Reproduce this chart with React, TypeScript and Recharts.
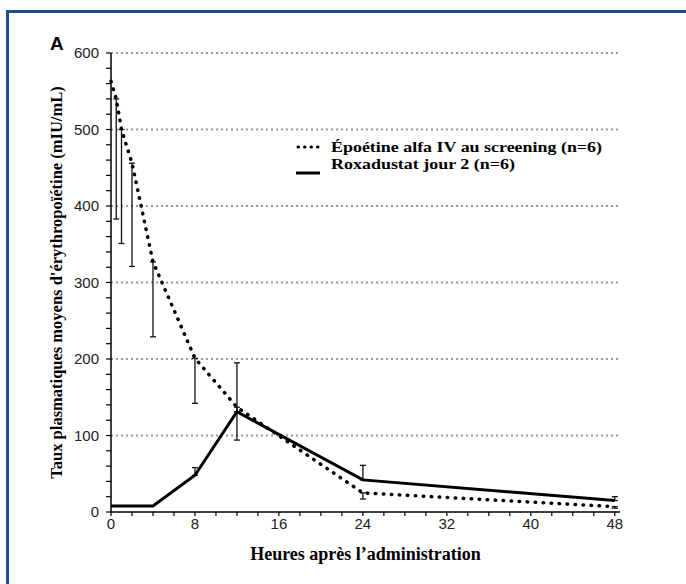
import { LineChart, Line, XAxis, YAxis, ReferenceLine, ErrorBar } from "recharts";

// sampling times (h)
const hours = [0, 0.5, 1, 2, 4, 8, 12, 24, 48];

// Epoetin alfa IV – mean with lower SD only
const epoetinMean = [563, 540, 500, 456, 327, 201, 137, 25, 7];
const epoetinSdLow = [null, 157, 149, 135, 98, 59, 43, 8, 2];

// Roxadustat day 2 – mean with upper SD only
const roxadustatMean = [8, 8, 8, 8, 8, 48, 131, 42, 15];
const roxadustatSdHigh = [null, null, null, null, null, 10, 64, 19, 5];

const hourTicks = [0, 2, 4, 6, 8, 10, 12, 14, 16, 18, 20, 22, 24, 26, 28, 30, 32, 34, 36, 38, 40, 42, 44, 46, 48];
const hourLabels = [0, 8, 16, 24, 32, 40, 48];
const levelTicks = [
    0, 20, 40, 60, 80, 100, 120, 140, 160, 180, 200, 220, 240, 260, 280, 300,
    320, 340, 360, 380, 400, 420, 440, 460, 480, 500, 520, 540, 560, 580, 600,
];
const levelLabels = [0, 100, 200, 300, 400, 500, 600];
const gridLevels = [100, 200, 300, 400, 500, 600];

const legendEpoetin = "Époétine alfa IV au screening (n=6)";
const legendRoxadustat = "Roxadustat jour 2 (n=6)";

const data = hours.map((h, i) => ({
    h,
    epo: epoetinMean[i],
    epoErr: epoetinSdLow[i] == null ? null : [epoetinSdLow[i], 0],
    roxa: roxadustatMean[i],
    roxaErr: roxadustatSdHigh[i] == null ? null : [0, roxadustatSdHigh[i]],
}));

const serif = "'Liberation Serif', 'Times New Roman', serif";
const sans = "'Liberation Sans', Arial, sans-serif";

export default function App() {
    return (
        <div
            style={{
                position: "absolute",
                left: 0,
                top: 0,
                width: 686,
                height: 584,
                overflow: "hidden",
                background: "#fff",
            }}
        >
            {/* blue frame, runs off the right and bottom edges */}
            <div
                style={{
                    position: "absolute",
                    left: 6,
                    top: 10,
                    width: 800,
                    height: 700,
                    border: "3px solid #1b4f8c",
                }}
            />

            <LineChart
                width={686}
                height={584}
                data={data}
                margin={{ top: 53, right: 66, bottom: 20, left: 40 }}
                style={{ position: "absolute", left: 0, top: 0 }}
            >
                {gridLevels.map((v) => (
                    <ReferenceLine
                        key={v}
                        y={v}
                        stroke="#999"
                        strokeWidth={2}
                        strokeDasharray="2 3"
                    />
                ))}

                <XAxis
                    dataKey="h"
                    type="number"
                    domain={[0, 48.5]}
                    ticks={hourTicks}
                    interval={0}
                    tickFormatter={(v) => (hourLabels.includes(v) ? String(v) : "")}
                    tickSize={4}
                    tickMargin={2}
                    height={52}
                    axisLine={{ stroke: "#000", strokeWidth: 1.5 }}
                    tickLine={{ stroke: "#000", strokeWidth: 1.2 }}
                    tick={{ fill: "#222", fontSize: 15, fontFamily: sans }}
                    label={{
                        value: "Heures après l’administration",
                        position: "insideBottom",
                        offset: 4,
                        style: { fill: "#000", fontSize: 18, fontWeight: 700, fontFamily: serif },
                    }}
                />

                <YAxis
                    type="number"
                    domain={[0, 600]}
                    ticks={levelTicks}
                    interval={0}
                    tickFormatter={(v) => (levelLabels.includes(v) ? String(v) : "")}
                    tickSize={5}
                    tickMargin={7}
                    width={71}
                    axisLine={{ stroke: "#000", strokeWidth: 1.5 }}
                    tickLine={{ stroke: "#000", strokeWidth: 1.2 }}
                    tick={{ fill: "#222", fontSize: 15, fontFamily: sans }}
                    label={{
                        value: "Taux plasmatiques moyens d'érythropoïétine (mIU/mL)",
                        angle: -90,
                        position: "insideLeft",
                        offset: 16,
                        style: {
                            textAnchor: "middle",
                            fill: "#000",
                            fontSize: 16.5,
                            fontWeight: 700,
                            fontFamily: serif,
                        },
                    }}
                />

                <Line
                    dataKey="epo"
                    type="linear"
                    stroke="#000"
                    strokeWidth={3.5}
                    strokeDasharray="0.5 7.5"
                    strokeLinecap="round"
                    dot={false}
                    isAnimationActive={false}
                >
                    <ErrorBar dataKey="epoErr" direction="y" width={3} stroke="#111" strokeWidth={1.3} />
                </Line>

                <Line
                    dataKey="roxa"
                    type="linear"
                    stroke="#000"
                    strokeWidth={3}
                    dot={false}
                    isAnimationActive={false}
                >
                    <ErrorBar dataKey="roxaErr" direction="y" width={3} stroke="#111" strokeWidth={1.3} />
                </Line>
            </LineChart>

            {/* panel letter and legend */}
            <svg
                width={686}
                height={584}
                style={{ position: "absolute", left: 0, top: 0, pointerEvents: "none" }}
            >
                <text x={50} y={50} fontFamily={sans} fontWeight={700} fontSize={19} fill="#000">
                    A
                </text>

                <line
                    x1={298}
                    y1={147}
                    x2={320}
                    y2={147}
                    stroke="#000"
                    strokeWidth={3}
                    strokeDasharray="0.5 6"
                    strokeLinecap="round"
                />
                <text
                    x={331}
                    y={152}
                    fontFamily={serif}
                    fontWeight={700}
                    fontSize={15.5}
                    fill="#000"
                    textLength={271}
                    lengthAdjust="spacingAndGlyphs"
                >
                    {legendEpoetin}
                </text>

                <line x1={296} y1={173} x2={320} y2={173} stroke="#000" strokeWidth={3} />
                <text
                    x={331}
                    y={169}
                    fontFamily={serif}
                    fontWeight={700}
                    fontSize={15.5}
                    fill="#000"
                    textLength={184}
                    lengthAdjust="spacingAndGlyphs"
                >
                    {legendRoxadustat}
                </text>
            </svg>
        </div>
    );
}
